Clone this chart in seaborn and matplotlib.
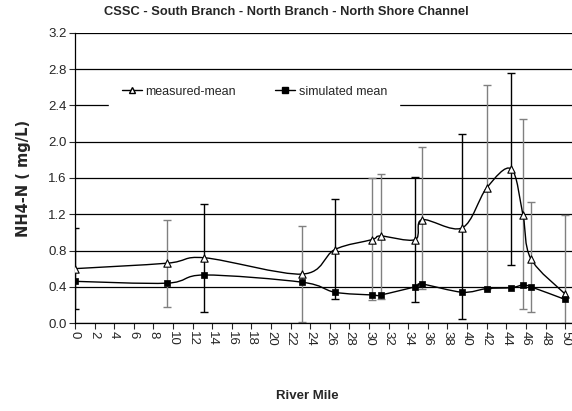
import numpy as np
import pandas as pd
import matplotlib
matplotlib.use("Agg")
import matplotlib.pyplot as plt
from matplotlib.path import Path
from matplotlib.patches import PathPatch
from matplotlib.lines import Line2D
import seaborn as sns

# river mile of each station
river_mile = [0.0, 9.4, 13.2, 23.2, 26.5, 30.3, 31.2, 34.7, 35.4, 39.5, 42.0, 44.5, 45.7, 46.5, 50.0]
measured_mean = [0.60, 0.66, 0.72, 0.54, 0.81, 0.92, 0.96, 0.92, 1.14, 1.05, 1.49, 1.70, 1.19, 0.71, 0.32]
simulated_mean = [0.46, 0.44, 0.53, 0.45, 0.34, 0.31, 0.31, 0.40, 0.43, 0.34, 0.38, 0.39, 0.42, 0.40, 0.26]
measured_low = [0.15, 0.18, 0.12, 0.01, 0.26, 0.25, 0.27, 0.23, 0.37, 0.05, 0.37, 0.64, 0.15, 0.12, 0.0]
measured_high = [1.05, 1.14, 1.31, 1.07, 1.37, 1.60, 1.64, 1.61, 1.94, 2.09, 2.63, 2.76, 2.25, 1.34, 1.19]
bar_colour = ["k", "grey", "k", "grey", "k", "grey", "grey", "k", "grey", "k", "grey", "k", "grey", "grey", "grey"]


def smooth_path(x, y):
    # excel style smoothed line: cubic bezier through every point
    x = np.asarray(x, float)
    y = np.asarray(y, float)
    n = len(x)
    verts = [(x[0], y[0])]
    codes = [Path.MOVETO]
    for i in range(n - 1):
        p0 = np.array([x[max(i - 1, 0)], y[max(i - 1, 0)]])
        p1 = np.array([x[i], y[i]])
        p2 = np.array([x[i + 1], y[i + 1]])
        p3 = np.array([x[min(i + 2, n - 1)], y[min(i + 2, n - 1)]])
        c1 = p1 + (p2 - p0) / 6.0
        c2 = p2 - (p3 - p1) / 6.0
        verts += [tuple(c1), tuple(c2), tuple(p2)]
        codes += [Path.CURVE4] * 3
    return Path(verts, codes)


def main():
    sns.set_style("white")
    plt.rcParams['font.family'] = ['Liberation Sans', 'DejaVu Sans']

    df = pd.DataFrame({"mile": river_mile, "measured": measured_mean,
                       "simulated": simulated_mean})

    fig = plt.figure(figsize=(5.72, 4.11), dpi=100)
    ax = fig.add_axes([0.131, 0.214, 0.869, 0.706])

    # error bars of the measured data
    for colour in ["grey", "k"]:
        idx = [i for i, c in enumerate(bar_colour) if c == colour]
        xs = np.array([river_mile[i] for i in idx])
        ms = np.array([measured_mean[i] for i in idx])
        lo = np.array([measured_low[i] for i in idx])
        hi = np.array([measured_high[i] for i in idx])
        ax.errorbar(xs, ms, yerr=[ms - lo, hi - ms], fmt="none", ecolor=colour,
                    elinewidth=1.0, capsize=3, capthick=1.0, zorder=2)

    ax.add_patch(PathPatch(smooth_path(river_mile, measured_mean), fill=False,
                           edgecolor="k", lw=1.0, zorder=3))
    ax.add_patch(PathPatch(smooth_path(river_mile, simulated_mean), fill=False,
                           edgecolor="k", lw=1.0, zorder=3))

    sns.scatterplot(data=df, x="mile", y="measured", marker="^", s=28,
                    facecolor="white", edgecolor="k", linewidth=0.8, ax=ax, zorder=4)
    sns.scatterplot(data=df, x="mile", y="simulated", marker="s", s=20,
                    color="k", edgecolor="k", linewidth=0.5, ax=ax, zorder=4)

    ax.set_xlim(0, 50.7)
    ax.set_ylim(0, 3.2)
    ax.set_xticks(np.arange(0, 51, 2))
    ax.set_yticks(np.arange(0, 3.21, 0.4))
    ax.set_yticklabels([f"{v:.1f}" for v in np.arange(0, 3.21, 0.4)])
    ax.tick_params(axis="x", rotation=-90, labelsize=9.5, direction="out",
                   length=4, width=0.8, bottom=True, pad=2)
    ax.tick_params(axis="y", labelsize=9.5, direction="out", length=4,
                   width=0.8, left=True, pad=2)
    ax.yaxis.grid(True, color="k", lw=0.9)
    ax.set_axisbelow(True)
    for side in ["top", "right"]:
        ax.spines[side].set_visible(False)
    for side in ["left", "bottom"]:
        ax.spines[side].set_color("k")
        ax.spines[side].set_linewidth(0.9)

    fig.suptitle("CSSC - South Branch - North Branch - North Shore Channel",
                 x=0.5, y=0.985, va="top", fontsize=9.3, fontweight="bold")
    ax.set_ylabel("NH4-N ( mg/L)", fontsize=10.5, fontweight="bold", labelpad=12,
                  family=["DejaVu Sans"])
    ax.set_xlabel("River Mile", fontsize=9.5, fontweight="bold")
    ax.xaxis.set_label_coords(0.467, -0.232)

    handles = [
        Line2D([], [], color="k", lw=1.0, marker="^", markersize=5,
               markerfacecolor="white", markeredgecolor="k"),
        Line2D([], [], color="k", lw=1.0, marker="s", markersize=4.5,
               markerfacecolor="k", markeredgecolor="k"),
    ]
    leg = ax.legend(handles, ["measured-mean", "simulated mean"], ncol=2,
                    loc="center left", bbox_to_anchor=(0.069, 2.55 / 3.2),
                    fontsize=9, frameon=True, fancybox=False, framealpha=1,
                    edgecolor="white", facecolor="white", handlelength=1.6,
                    handletextpad=0.25, columnspacing=3.2, borderpad=1.0,
                    borderaxespad=0)
    leg.set_zorder(5)

    fig.savefig("out.png", dpi=100)


if __name__ == "__main__":
    main()
